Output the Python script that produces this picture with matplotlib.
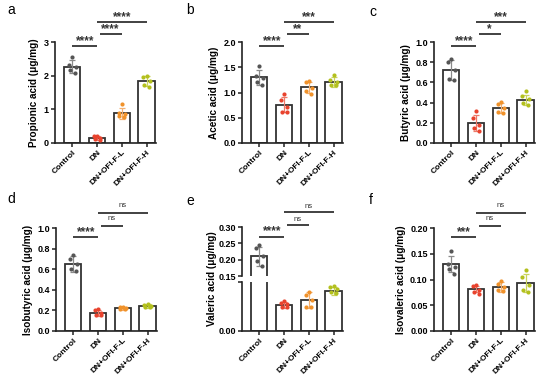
import numpy as np
import matplotlib
matplotlib.use("Agg")
import matplotlib.pyplot as plt

plt.rcParams["font.family"] = ["Liberation Sans", "DejaVu Sans"]
plt.rcParams["font.weight"] = "bold"

GROUPS = ["Control", "DN", "DN+OFI-F-L", "DN+OFI-F-H"]
DOT_COL = ["#555555", "#e8432e", "#f0922b", "#b3c01e"]
ERR_COL = ["#8a8a8a", "#ee7a6a", "#f4b071", "#cbd45c"]
JIT = [0.0, -0.13, 0.13, -0.1, 0.1]

# panel a
PROP_MEAN = [2.27, 0.15, 0.88, 1.83]
PROP_SD = [0.20, 0.07, 0.17, 0.15]
PROP_PTS = [[2.55, 2.32, 2.25, 2.18, 2.08], [0.22, 0.20, 0.15, 0.12, 0.10],
            [1.15, 0.90, 0.85, 0.80, 0.78], [2.00, 1.95, 1.85, 1.72, 1.65]]
# panel b
ACET_MEAN = [1.30, 0.76, 1.10, 1.20]
ACET_SD = [0.15, 0.15, 0.10, 0.10]
ACET_PTS = [[1.52, 1.33, 1.28, 1.20, 1.15], [0.97, 0.85, 0.72, 0.62, 0.62],
            [1.22, 1.20, 1.08, 1.02, 0.98], [1.35, 1.25, 1.20, 1.15, 1.15]]
# panel c
BUTY_MEAN = [0.72, 0.20, 0.35, 0.43]
BUTY_SD = [0.10, 0.08, 0.05, 0.05]
BUTY_PTS = [[0.83, 0.80, 0.72, 0.63, 0.62], [0.32, 0.25, 0.18, 0.15, 0.12],
            [0.41, 0.39, 0.35, 0.31, 0.30], [0.51, 0.47, 0.44, 0.40, 0.38]]
# panel d
ISOB_MEAN = [0.65, 0.175, 0.22, 0.24]
ISOB_SD = [0.08, 0.03, 0.015, 0.02]
ISOB_PTS = [[0.74, 0.70, 0.65, 0.60, 0.58], [0.21, 0.20, 0.17, 0.16, 0.16],
            [0.23, 0.23, 0.22, 0.21, 0.21], [0.26, 0.25, 0.24, 0.23, 0.23]]
# panel e (broken axis)
VALE_MEAN = [0.21, 0.053, 0.063, 0.082]
VALE_SD = [0.03, 0.006, 0.016, 0.008]
VALE_PTS = [[0.245, 0.235, 0.21, 0.195, 0.18], [0.062, 0.058, 0.055, 0.050, 0.048],
            [0.080, 0.073, 0.063, 0.050, 0.050], [0.092, 0.090, 0.085, 0.080, 0.078]]
# panel f
ISOV_MEAN = [0.130, 0.081, 0.086, 0.093]
ISOV_SD = [0.015, 0.006, 0.010, 0.018]
ISOV_PTS = [[0.155, 0.130, 0.125, 0.120, 0.110], [0.090, 0.088, 0.080, 0.075, 0.072],
            [0.097, 0.092, 0.085, 0.080, 0.078], [0.118, 0.105, 0.090, 0.080, 0.075]]

SIG_TOP = [["****", "****", "****"], ["****", "**", "***"], ["****", "*", "***"]]
SIG_BOT = [["****", "ns", "ns"], ["****", "ns", "ns"], ["***", "ns", "ns"]]
PAIRS = [(0, 1), (1.1, 2), (1, 3)]

W, H = 550, 379
fig = plt.figure(figsize=(5.5, 3.79), dpi=100)


def px_axes(x0, ybot, w, h):
    return fig.add_axes([x0 / W, 1 - ybot / H, w / W, h / H])


def style(ax, xt=True):
    for s in ["top", "right"]:
        ax.spines[s].set_visible(False)
    for s in ["left", "bottom"]:
        ax.spines[s].set_linewidth(1.2)
        ax.spines[s].set_color("#222222")
    ax.tick_params(length=3, width=1.1, color="#222222", labelsize=6.5, pad=1.5)
    ax.set_xlim(-0.7, 3.38)
    ax.set_xticks(range(4))
    if xt:
        ax.set_xticklabels(GROUPS, rotation=45, ha="right", rotation_mode="anchor",
                           fontsize=6, fontweight="bold")
    for t in ax.get_yticklabels():
        t.set_fontweight("bold")


def draw(ax, means, sds, pts):
    x = np.arange(4)
    ax.bar(x, means, width=0.66, color="white", edgecolor="#333333", linewidth=1.3, zorder=2)
    for i in range(4):
        ax.errorbar(i, means[i], yerr=sds[i], color=ERR_COL[i], capsize=2.5, elinewidth=0.9,
                    capthick=0.9, zorder=3)
        ax.scatter(np.array(JIT) + i, pts[i], s=9, color=DOT_COL[i], zorder=4, linewidths=0)


def sig(ax, labels, levels):
    for (a, b), lab, lv in zip(PAIRS, labels, levels):
        ax.plot([a, b], [lv, lv], color="#333333", lw=1.3, transform=ax.get_xaxis_transform(),
                clip_on=False, solid_capstyle="butt")
        if lab == "ns":
            ax.text((a + b) / 2, lv + 0.035, lab, transform=ax.get_xaxis_transform(),
                    ha="center", va="bottom", fontsize=5.5, fontweight="normal", color="#333333")
        else:
            ax.text((a + b) / 2, lv - 0.01, lab, transform=ax.get_xaxis_transform(),
                    ha="center", va="bottom", fontsize=8.5, fontweight="bold", color="#333333")


TOP_LV = [0.96, 1.08, 1.20]
BOT_LV = [0.91, 1.02, 1.15]
YL = dict(fontsize=7.2, fontweight="bold", labelpad=3)

# top row
axa = px_axes(55, 143, 101, 101)
draw(axa, PROP_MEAN, PROP_SD, PROP_PTS)
axa.set_ylim(0, 3); axa.set_yticks([0, 1, 2, 3])
axa.set_ylabel("Propionic acid (μg/mg)", **YL)
style(axa); sig(axa, SIG_TOP[0], TOP_LV)

axb = px_axes(242, 143, 101, 101)
draw(axb, ACET_MEAN, ACET_SD, ACET_PTS)
axb.set_ylim(0, 2); axb.set_yticks([0, 0.5, 1.0, 1.5, 2.0])
axb.set_yticklabels(["0.0", "0.5", "1.0", "1.5", "2.0"])
axb.set_ylabel("Acetic acid (μg/mg)", **YL)
style(axb); sig(axb, SIG_TOP[1], TOP_LV)

axc = px_axes(434, 143, 101, 101)
draw(axc, BUTY_MEAN, BUTY_SD, BUTY_PTS)
axc.set_ylim(0, 1); axc.set_yticks(np.arange(0, 1.01, 0.2))
axc.set_yticklabels(["0.0", "0.2", "0.4", "0.6", "0.8", "1.0"])
axc.set_ylabel("Butyric acid (μg/mg)", **YL)
style(axc); sig(axc, SIG_TOP[2], TOP_LV)

# bottom row
axd = px_axes(56, 331, 101, 103)
draw(axd, ISOB_MEAN, ISOB_SD, ISOB_PTS)
axd.set_ylim(0, 1); axd.set_yticks(np.arange(0, 1.01, 0.2))
axd.set_yticklabels(["0.0", "0.2", "0.4", "0.6", "0.8", "1.0"])
axd.set_ylabel("Isobutyric acid (μg/mg)", **YL)
style(axd); sig(axd, SIG_BOT[0], BOT_LV)

axe_lo = px_axes(242, 331, 101, 49)
axe_hi = px_axes(242, 276, 101, 49)
for ax in (axe_lo, axe_hi):
    draw(ax, VALE_MEAN, VALE_SD, VALE_PTS)
axe_lo.set_ylim(0, 0.1); axe_lo.set_yticks([0, 0.1]); axe_lo.set_yticklabels(["0.00", ""])
axe_hi.set_ylim(0.15, 0.30); axe_hi.set_yticks([0.15, 0.20, 0.25, 0.30])
axe_hi.set_yticklabels(["0.15", "0.20", "0.25", "0.30"])
style(axe_lo)
style(axe_hi, xt=False)
axe_hi.spines["bottom"].set_visible(False)
axe_hi.tick_params(axis="x", bottom=False, labelbottom=False)
for t in axe_hi.get_yticklabels() + axe_lo.get_yticklabels():
    t.set_fontweight("bold")
fig.text(212 / W, 1 - 279 / H, "Valeric acid (μg/mg)", rotation=90, ha="center", va="center",
         fontsize=7.2, fontweight="bold")
# significance for e relative to upper axes
LV_E = [0.80, 1.04, 1.31]
sig(axe_hi, SIG_BOT[1], LV_E)

axf = px_axes(434, 331, 101, 103)
draw(axf, ISOV_MEAN, ISOV_SD, ISOV_PTS)
axf.set_ylim(0, 0.2); axf.set_yticks(np.arange(0, 0.201, 0.05))
axf.set_yticklabels(["0.00", "0.05", "0.10", "0.15", "0.20"])
axf.set_ylabel("Isovaleric acid (μg/mg)", **YL)
style(axf); sig(axf, SIG_BOT[2], BOT_LV)

for lab, (x, y) in zip("abcdef", [(7, 10), (186, 10), (369, 12), (7, 199), (186, 201), (369, 200)]):
    fig.text(x / W, 1 - y / H, lab, fontsize=10, fontweight="normal", ha="left", va="center")

fig.savefig("out.png", dpi=100)
